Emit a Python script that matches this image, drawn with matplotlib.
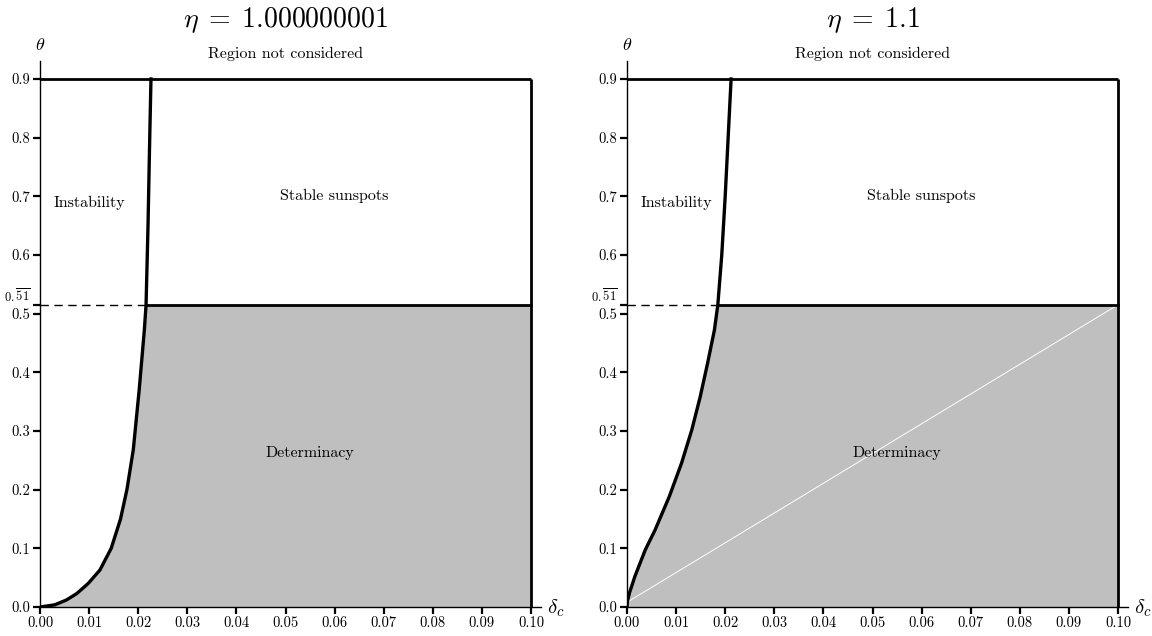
import numpy as np
import matplotlib
matplotlib.use("Agg")
import matplotlib.pyplot as plt

plt.rcParams['mathtext.fontset'] = 'cm'
plt.rcParams['font.family'] = 'serif'
plt.rcParams['font.serif'] = ['cmr10', 'DejaVu Serif']
plt.rcParams['axes.formatter.use_mathtext'] = True

# Data
titles = [r'$\eta\;=\;1.000000001$', r'$\eta\;=\;1.1$']
theta_bar = 51 / 99  # 0.5151...
theta_max = 0.9
delta_max = 0.10

left_delta = [0.0, 0.0030, 0.0054, 0.0075, 0.0098, 0.0122, 0.0145, 0.0164, 0.0177,
              0.0190, 0.0202, 0.02125, 0.0216, 0.0220, 0.0223, 0.0226]
left_theta = [0.0, 0.0037, 0.012, 0.023, 0.040, 0.063, 0.10, 0.15, 0.20,
              0.268, 0.370, 0.472, theta_bar, 0.65, 0.78, 0.90]

right_delta = [0.0, 0.0001, 0.0005, 0.0016, 0.0037, 0.0057, 0.0086, 0.0111, 0.0132,
               0.0149, 0.0164, 0.0178, 0.0185, 0.0193, 0.0200, 0.0206, 0.0212]
right_theta = [0.0, 0.010, 0.024, 0.052, 0.097, 0.131, 0.188, 0.245, 0.302,
               0.358, 0.415, 0.472, theta_bar, 0.60, 0.70, 0.80, 0.90]

white_line_delta = [0.0, 0.10]
white_line_theta = [0.008, theta_bar]

xticks = [0.00, 0.01, 0.02, 0.03, 0.04, 0.05, 0.06, 0.07, 0.08, 0.09, 0.10]
xticklabels = ['0.00', '0.01', '0.02', '0.03', '0.04', '0.05', '0.06', '0.07', '0.08', '0.09', '0.10']
yticks = [0.0, 0.1, 0.2, 0.3, 0.4, 0.5, 0.6, 0.7, 0.8, 0.9]
yticklabels = ['0.0', '0.1', '0.2', '0.3', '0.4', '0.5', '0.6', '0.7', '0.8', '0.9']

fig = plt.figure(figsize=(11.52, 6.36), dpi=100)
W, H = 1152, 636
px_per_x = 4910.0
px_per_y = 586.7
positions = [40, 627]

curves = [(left_delta, left_theta), (right_delta, right_theta)]

for i in range(2):
    x0 = positions[i]
    ax = fig.add_axes([x0 / W, 1 - 607 / H, 0.102 * px_per_x / W, 0.93 * px_per_y / H])
    ax.set_xlim(0, 0.102)
    ax.set_ylim(0, 0.93)
    for s in ['top', 'right']:
        ax.spines[s].set_visible(False)
    for s in ['left', 'bottom']:
        ax.spines[s].set_linewidth(1.0)
    d, t = curves[i]
    d = np.array(d); t = np.array(t)
    mask = t <= theta_bar + 1e-12
    # gray fill
    poly_x = list(d[mask]) + [delta_max, delta_max]
    poly_y = list(t[mask]) + [theta_bar, 0.0]
    ax.fill(poly_x, poly_y, color='#bfbfbf', lw=0, zorder=1)
    if i == 1:
        ax.plot(white_line_delta, white_line_theta, color='white', lw=0.7, zorder=2)
    # frame lines
    xb = d[mask][-1]
    ax.plot([0, delta_max], [theta_max, theta_max], color='black', lw=2, zorder=3, solid_capstyle='butt')
    ax.plot([delta_max, delta_max], [0, theta_max], color='black', lw=2, zorder=3, solid_capstyle='butt')
    ax.plot([xb, delta_max], [theta_bar, theta_bar], color='black', lw=2, zorder=3)
    ax.plot([0, xb], [theta_bar, theta_bar], color='black', lw=1, ls=(0, (6, 4)), zorder=3)
    ax.plot(d, t, color='black', lw=2.4, zorder=4, solid_joinstyle='round')

    ax.set_xticks(xticks)
    ax.set_xticklabels(xticklabels, fontsize=10.5)
    ax.set_yticks(yticks + [theta_bar])
    ax.set_yticklabels(yticklabels + [r'$0.\overline{51}$'], fontsize=10.5)
    ax.get_yticklabels()[-1].set_fontsize(9)
    ax.get_yticklabels()[-1].set_verticalalignment('bottom')
    ax.tick_params(direction='out', length=5, width=1.6, pad=2)

    ax.text(0.05, 1.0, titles[i], fontsize=20, ha='center', va='center', clip_on=False)
    ax.text(0.05, 0.943, 'Region not considered', fontsize=11.5, ha='center', va='center')
    ax.text(0.06, 0.70, 'Stable sunspots', fontsize=11.5, ha='center', va='center')
    ax.text(0.01, 0.688, 'Instability', fontsize=11.5, ha='center', va='center')
    ax.text(0.055, 0.262, 'Determinacy', fontsize=11.5, ha='center', va='center')
    ax.text(0.0, 0.945, r'$\theta$', fontsize=13, ha='center', va='bottom', clip_on=False)
    ax.text(0.1033, -0.002, r'$\delta_c$', fontsize=15, ha='left', va='center', clip_on=False)

fig.savefig('out.png', dpi=100)
